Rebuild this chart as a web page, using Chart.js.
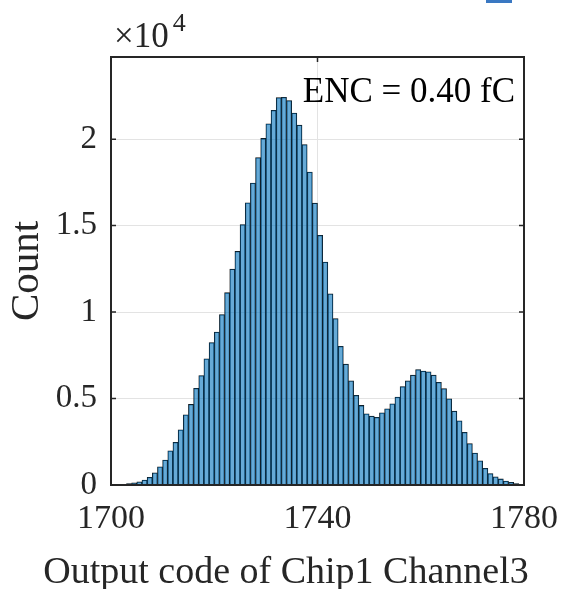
<!DOCTYPE html>
<html>
<head>
<meta charset="utf-8">
<script src="https://cdn.jsdelivr.net/npm/chart.js@4"></script>
<style>
  html, body { margin: 0; padding: 0; background: #fff; }
  #wrap { width: 562px; height: 589px; }
</style>
</head>
<body>
<div id="wrap"><canvas id="hist" width="562" height="589"></canvas></div>
<script>
// ------------------------
// DATA
// ------------------------

// bin centres, 1 code wide
const binCenters = [
  1700.5, 1701.5, 1702.5, 1703.5, 1704.5, 1705.5, 1706.5, 1707.5, 1708.5, 1709.5,
  1710.5, 1711.5, 1712.5, 1713.5, 1714.5, 1715.5, 1716.5, 1717.5, 1718.5, 1719.5,
  1720.5, 1721.5, 1722.5, 1723.5, 1724.5, 1725.5, 1726.5, 1727.5, 1728.5, 1729.5,
  1730.5, 1731.5, 1732.5, 1733.5, 1734.5, 1735.5, 1736.5, 1737.5, 1738.5, 1739.5,
  1740.5, 1741.5, 1742.5, 1743.5, 1744.5, 1745.5, 1746.5, 1747.5, 1748.5, 1749.5,
  1750.5, 1751.5, 1752.5, 1753.5, 1754.5, 1755.5, 1756.5, 1757.5, 1758.5, 1759.5,
  1760.5, 1761.5, 1762.5, 1763.5, 1764.5, 1765.5, 1766.5, 1767.5, 1768.5, 1769.5,
  1770.5, 1771.5, 1772.5, 1773.5, 1774.5, 1775.5, 1776.5, 1777.5, 1778.5, 1779.5
];

// counts per bin
const binCounts = [
     10,    20,    40,    80,   120,   180,   290,   450,   700,  1050,
   1440,  1980,  2470,  3190,  4060,  4660,  5590,  6330,  7300,  8240,
   8850,  9860, 11120, 12480, 13510, 15060, 16320, 17460, 18930, 20040,
  20890, 21670, 22400, 22420, 22230, 21510, 20810, 19690, 18100, 16300,
  14440, 12890, 11050,  9620,  8020,  6990,  6020,  5190,  4600,  4120,
   3980,  3920,  4180,  4410,  4700,  5090,  5690,  6020,  6350,  6680,
   6590,  6550,  6350,  5940,  5570,  4990,  4270,  3710,  3050,  2390,
   1850,  1400,   970,   660,   470,   350,   230,   160,    80,    40
];

const xTicks = [1700, 1740, 1780];
const yTicks = [0, 5000, 10000, 15000, 20000];
const yMax = 24750;

const xTitle = "Output code of Chip1 Channel3";
const yTitle = "Count";
const encText = "ENC = 0.40 fC";

// ------------------------
// STYLE
// ------------------------

const SERIF = "'Liberation Serif', 'Times New Roman', serif";
const AXIS_COLOR = "#262626";

// box, inward ticks, exponent, x label and annotation like MATLAB axes
const matlabAxes = {
    id: "matlabAxes",
    afterDraw(chart) {
        const ctx = chart.ctx;
        const a = chart.chartArea;
        const xs = chart.scales.x;
        const ys = chart.scales.y;
        ctx.save();
        ctx.strokeStyle = AXIS_COLOR;
        ctx.lineWidth = 2;
        ctx.strokeRect(a.left, a.top, a.right - a.left, a.bottom - a.top);

        ctx.lineWidth = 1.5;
        ctx.beginPath();
        yTicks.forEach(v => {
            const y = ys.getPixelForValue(v);
            ctx.moveTo(a.left, y); ctx.lineTo(a.left + 5, y);
            ctx.moveTo(a.right, y); ctx.lineTo(a.right - 5, y);
        });
        xTicks.forEach(v => {
            const x = xs.getPixelForValue(v);
            ctx.moveTo(x, a.bottom); ctx.lineTo(x, a.bottom - 5);
            ctx.moveTo(x, a.top); ctx.lineTo(x, a.top + 5);
        });
        ctx.stroke();

        // x10^4 multiplier
        ctx.fillStyle = AXIS_COLOR;
        ctx.textBaseline = "alphabetic";
        ctx.textAlign = "left";
        ctx.font = "35px " + SERIF;
        ctx.fillText("\u00d710", a.left + 3, 47);
        const w = ctx.measureText("\u00d710").width;
        ctx.font = "26px " + SERIF;
        ctx.fillText("4", a.left + 7 + w, 31);

        // x axis label (drawn here so it is not squeezed to the axis width)
        ctx.textAlign = "center";
        ctx.font = "38px " + SERIF;
        ctx.fillText(xTitle, 286, 583);

        // ENC annotation
        ctx.fillStyle = "#000";
        ctx.textAlign = "right";
        ctx.font = "35px " + SERIF;
        ctx.fillText(encText, a.right - 9, 102);

        // clipped legend swatch at the top edge
        ctx.fillStyle = "#3a78c2";
        ctx.fillRect(486, 0, 26, 3);
        ctx.restore();
    }
};

// ------------------------
// CHART
// ------------------------

new Chart(document.getElementById("hist").getContext("2d"), {
    type: "bar",
    data: {
        datasets: [{
            label: "Count",
            data: binCenters.map((c, i) => ({ x: c, y: binCounts[i] })),
            backgroundColor: "rgba(0,114,189,0.6)",
            borderColor: "#111",
            borderWidth: 0.6,
            barPercentage: 1,
            categoryPercentage: 1
        }]
    },
    options: {
        responsive: false,
        animation: false,
        devicePixelRatio: 1,
        layout: { padding: { top: 57, right: 38, left: 0, bottom: 0 } },
        plugins: { legend: { display: false }, tooltip: { enabled: false } },
        scales: {
            x: {
                type: "linear",
                min: 1700,
                max: 1780,
                offset: false,
                afterBuildTicks: s => { s.ticks = xTicks.map(v => ({ value: v })); },
                afterFit: s => {
                    s.height = 589 - 485;
                    s.paddingLeft = 0;
                    s.paddingRight = 0;
                },
                grid: { color: "#e3e3e3", drawTicks: false, offset: false },
                border: { display: false },
                ticks: {
                    color: AXIS_COLOR,
                    font: { family: SERIF, size: 34 },
                    padding: 14,
                    maxRotation: 0,
                    callback: v => String(v)
                },
                title: { display: false }
            },
            y: {
                min: 0,
                max: yMax,
                afterBuildTicks: s => { s.ticks = yTicks.map(v => ({ value: v })); },
                afterFit: s => {
                    s.width = 111;
                    s.paddingTop = 0;
                    s.paddingBottom = 0;
                },
                grid: { color: "#e3e3e3", drawTicks: false },
                border: { display: false },
                ticks: {
                    color: AXIS_COLOR,
                    font: { family: SERIF, size: 33 },
                    padding: 14,
                    callback: v => String(v / 10000)
                },
                title: {
                    display: true,
                    text: yTitle,
                    color: AXIS_COLOR,
                    font: { family: SERIF, size: 41, lineHeight: 1 },
                    padding: { top: 7, bottom: 0 }
                }
            }
        }
    },
    plugins: [matlabAxes]
});
</script>
</body>
</html>
